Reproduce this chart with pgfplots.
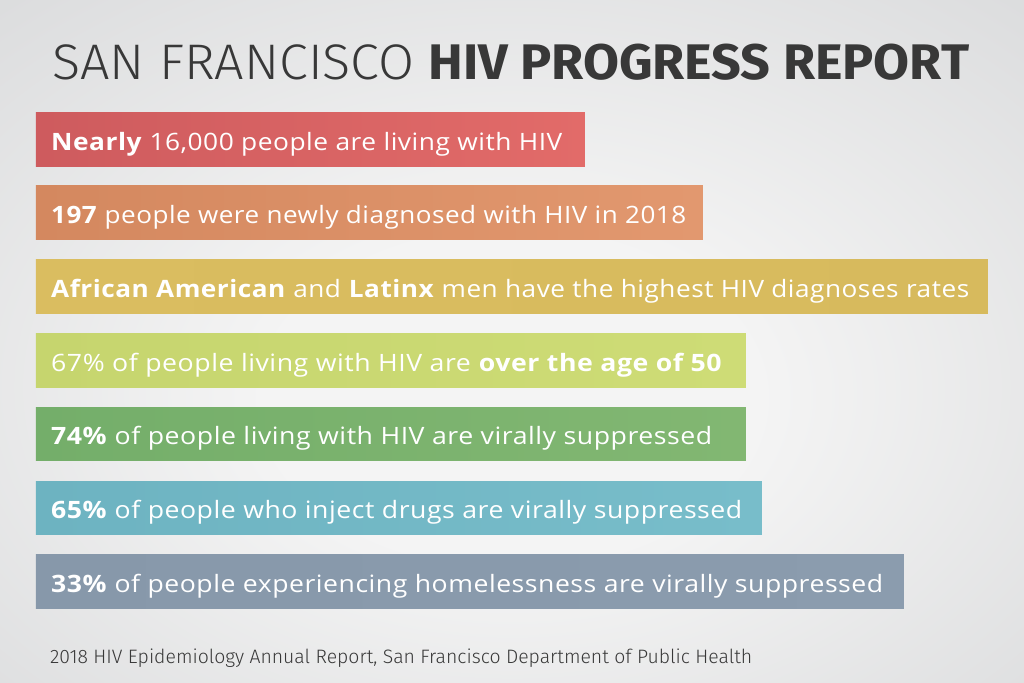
\documentclass[border=0pt]{standalone}
\usepackage{pgfplots}
\pgfplotsset{compat=1.18}
\usepackage{fontspec}
\usepackage{graphicx}
\setmainfont{Fira Sans}
\newfontfamily\lightfont{Fira Sans Light}
\newfontfamily\barfont[LetterSpace=2]{Open Sans}
\definecolor{bgin}{HTML}{F4F4F4}
\definecolor{bgout}{HTML}{BABCBF}
\definecolor{titlec}{HTML}{383838}
\definecolor{ca}{HTML}{CE5B5E}\definecolor{cA}{HTML}{E26B69}
\definecolor{cb}{HTML}{D4885F}\definecolor{cB}{HTML}{E2986F}
\definecolor{cc}{HTML}{DABD60}\definecolor{cC}{HTML}{D7BA5D}
\definecolor{cd}{HTML}{C6D56E}\definecolor{cD}{HTML}{CEDC76}
\definecolor{ce}{HTML}{74AE6A}\definecolor{cE}{HTML}{82B772}
\definecolor{cf}{HTML}{6DB3C1}\definecolor{cF}{HTML}{78BDCA}
\definecolor{cg}{HTML}{8798AA}\definecolor{cG}{HTML}{8B9CAE}
\pgfdeclareradialshading{bgshade}{\pgfpoint{0bp}{-5bp}}{color(0bp)=(bgin); color(12bp)=(bgin); color(72bp)=(bgout)}
\newcommand{\fit}[2]{\resizebox{#1bp}{\height}{#2}}
\begin{document}
\begin{tikzpicture}
\shade[shading=bgshade] (0,0) rectangle (1024bp,683bp);
\begin{axis}[at={(0,0)}, anchor=south west, scale only axis,
  width=1024bp, height=683bp, xmin=-36, xmax=988, ymin=0, ymax=683,
  y dir=reverse, hide axis, xbar, bar width=53.5, bar shift=0pt, clip=false]
\addplot[draw=none, left color=ca, right color=cA] coordinates {(549,139.3)};
\addplot[draw=none, left color=cb, right color=cB] coordinates {(667,212.7)};
\addplot[draw=none, left color=cc, right color=cC] coordinates {(952,286.5)};
\addplot[draw=none, left color=cd, right color=cD] coordinates {(710,360.5)};
\addplot[draw=none, left color=ce, right color=cE] coordinates {(710,434)};
\addplot[draw=none, left color=cf, right color=cF] coordinates {(726,507.8)};
\addplot[draw=none, left color=cg, right color=cG] coordinates {(868,581.5)};
\tikzset{bt/.style={anchor=base west, inner sep=0pt, text=white, font=\barfont\fontsize{24}{28}\selectfont}}
\node[bt] at (axis cs:15,150.2) {\fit{511}{\textbf{Nearly} 16,000 people are living with HIV}};
\node[bt] at (axis cs:15,223.7) {\fit{635}{\textbf{197} people were newly diagnosed with HIV in 2018}};
\node[bt] at (axis cs:15,297.2) {\fit{918}{\textbf{African American} and \textbf{Latinx} men have the highest HIV diagnoses rates}};
\node[bt] at (axis cs:15,371.2) {\fit{671}{67\% of people living with HIV are \textbf{over the age of 50}}};
\node[bt] at (axis cs:15,444.7) {\fit{661}{\textbf{74\%} of people living with HIV are virally suppressed}};
\node[bt] at (axis cs:15,518.2) {\fit{691}{\textbf{65\%} of people who inject drugs are virally suppressed}};
\node[bt] at (axis cs:15,592.2) {\fit{832}{\textbf{33\%} of people experiencing homelessness are virally suppressed}};
\node[anchor=base west, inner sep=0pt, text=titlec] at (axis cs:16,80) {\resizebox{917bp}{35.5bp}{\fontsize{50}{56}\selectfont{\lightfont SAN FRANCISCO} \textbf{HIV PROGRESS REPORT}}};
\node[anchor=base west, inner sep=0pt, text=titlec] at (axis cs:14,663) {\resizebox{702bp}{!}{\lightfont\fontsize{20}{24}\selectfont 2018 HIV Epidemiology Annual Report, San Francisco Department of Public Health}};
\end{axis}
\end{tikzpicture}
\end{document}
